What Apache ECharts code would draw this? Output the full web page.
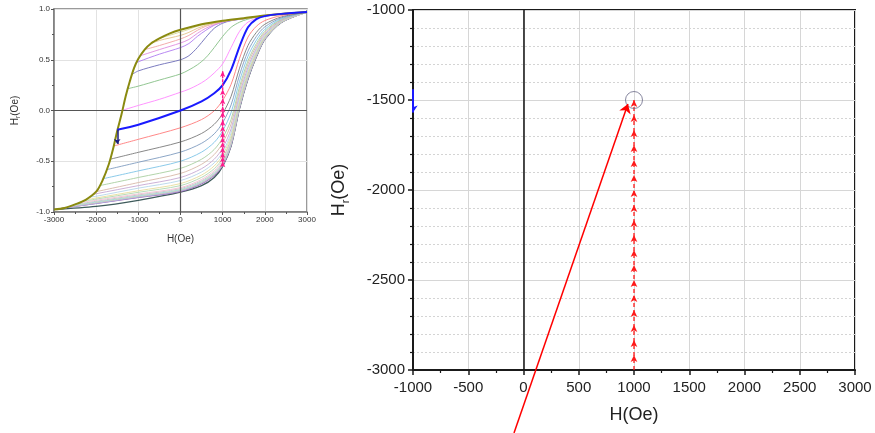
<!DOCTYPE html>
<html>
<head>
<meta charset="utf-8">
<script src="https://cdn.jsdelivr.net/npm/echarts@6/dist/echarts.min.js"></script>
<style>
  html, body { margin: 0; padding: 0; background: #ffffff; }
  #chart { width: 875px; height: 433px; }
</style>
</head>
<body>
<div id="chart"></div>
<script>
// ---------------- Left panel: first-order reversal curves ----------------
// Major loop, descending branch (from positive saturation)
const upperH = [-3000,-2750,-2500,-2250,-2000,-1850,-1700,-1600,-1500,-1400,-1300,-1200,-1100,-1000,-850,-700,-500,-250,0,500,1000,1500,2000,2500,3000];
const upperM = [-0.975,-0.96,-0.925,-0.88,-0.80,-0.69,-0.53,-0.38,-0.20,-0.04,0.14,0.29,0.42,0.51,0.60,0.66,0.71,0.76,0.795,0.85,0.885,0.91,0.935,0.955,0.97];

// Field grid for reversal curves starting at or below Hr = -1500 Oe
const gridLow = [-2000,-1000,0,500,800,1000,1200,1400,1600,1800,2000,2400,3000];
const lowHr = [-1500,-1583,-1667,-1750,-1833,-1917,-2000,-2083,-2167,-2250,-2333,-2417,-2500,-2583,-2667,-2750,-2833,-2917,-3000];
const lowStartM = [-0.19,-0.35,-0.48,-0.583,-0.672,-0.74,-0.80,-0.827,-0.853,-0.88,-0.895,-0.91,-0.925,-0.937,-0.948,-0.96,-0.965,-0.97,-0.975];
const lowM = [
  [null,-0.14,0.0,0.09,0.17,0.25,0.40,0.63,0.82,0.90,0.93,0.952,0.97],
  [null,-0.284,-0.17,-0.089,-0.003,0.10,0.258,0.514,0.723,0.83,0.886,0.936,0.97],
  [null,-0.412,-0.31,-0.226,-0.136,-0.03,0.14,0.417,0.64,0.77,0.85,0.923,0.97],
  [null,-0.51,-0.41,-0.323,-0.23,-0.12,0.055,0.349,0.585,0.73,0.824,0.914,0.97],
  [null,-0.595,-0.50,-0.41,-0.314,-0.20,-0.02,0.288,0.534,0.693,0.80,0.906,0.97],
  [null,-0.66,-0.57,-0.48,-0.384,-0.27,-0.088,0.234,0.489,0.66,0.78,0.899,0.97],
  [null,-0.71,-0.62,-0.53,-0.434,-0.32,-0.133,0.197,0.458,0.637,0.767,0.894,0.97],
  [-0.82,-0.74,-0.66,-0.573,-0.48,-0.37,-0.181,0.157,0.425,0.613,0.752,0.888,0.97],
  [-0.845,-0.765,-0.69,-0.606,-0.516,-0.41,-0.219,0.127,0.399,0.595,0.74,0.884,0.97],
  [-0.862,-0.791,-0.72,-0.636,-0.546,-0.44,-0.247,0.104,0.38,0.581,0.732,0.881,0.97],
  [-0.873,-0.806,-0.74,-0.659,-0.573,-0.47,-0.275,0.081,0.361,0.567,0.723,0.878,0.97],
  [-0.884,-0.822,-0.76,-0.679,-0.593,-0.49,-0.294,0.066,0.348,0.558,0.717,0.876,0.97],
  [-0.894,-0.832,-0.77,-0.692,-0.609,-0.51,-0.312,0.05,0.336,0.549,0.712,0.874,0.97],
  [-0.902,-0.841,-0.78,-0.702,-0.619,-0.52,-0.322,0.043,0.329,0.544,0.709,0.873,0.97],
  [-0.907,-0.846,-0.785,-0.709,-0.627,-0.53,-0.331,0.035,0.323,0.539,0.706,0.872,0.97],
  [-0.914,-0.852,-0.79,-0.714,-0.632,-0.535,-0.336,0.032,0.32,0.537,0.704,0.872,0.97],
  [-0.915,-0.855,-0.795,-0.719,-0.637,-0.54,-0.341,0.028,0.316,0.535,0.703,0.871,0.97],
  [-0.917,-0.858,-0.80,-0.724,-0.642,-0.545,-0.345,0.024,0.313,0.532,0.701,0.87,0.97],
  [-0.945,-0.885,-0.805,-0.74,-0.66,-0.55,-0.35,0.02,0.31,0.53,0.70,0.87,0.97]
];
const lowColors = ['#1a1aff','#ff7a7a','#7a7a7a','#7f9cc0','#7ec4e6','#a9cfa0','#d8b8a8','#c6a8d2','#b6d6ea',
                   '#e6dc9c','#b0d8b0','#f0c0d4','#c4c4c4','#a0dede','#dcc6a6','#b8b8e6','#9a90cc','#a060b0','#3f5c5c'];

// Field grid for reversal curves starting above Hr = -1500 Oe
const gridHigh = [-1000,-500,0,200,400,600,800,1000,1200,1400,1600,2000,3000];
const highHr = [-1390,-1250,-1150,-1050,-950,-850,-700,-500];
const highStartM = [0.0,0.215,0.355,0.465,0.54,0.60,0.66,0.71];
const highM = [
  [0.05,0.11,0.18,0.21,0.25,0.30,0.37,0.46,0.62,0.78,0.87,0.935,0.97],
  [0.24,0.30,0.36,0.40,0.45,0.52,0.62,0.73,0.82,0.87,0.90,0.935,0.97],
  [0.39,0.45,0.50,0.54,0.62,0.72,0.81,0.86,0.885,0.898,0.91,0.935,0.97],
  [0.48,0.555,0.62,0.66,0.73,0.79,0.84,0.87,0.887,0.899,0.91,0.935,0.97],
  [null,0.60,0.665,0.70,0.76,0.81,0.845,0.872,0.889,0.90,0.91,0.935,0.97],
  [null,0.64,0.705,0.74,0.79,0.83,0.855,0.876,0.89,0.90,0.91,0.935,0.97],
  [null,0.69,0.74,0.77,0.81,0.84,0.862,0.879,0.891,0.901,0.91,0.935,0.97],
  [null,null,0.774,0.80,0.83,0.85,0.867,0.88,0.892,0.902,0.91,0.935,0.97]
];
const highColors = ['#ff88ff','#86c086','#6c6cb8','#b07cf0','#e08ce0','#f0a4a4','#e2c28a','#d6d692'];

// Step arrows at H = 1000 Oe (left panel)
const stepH = 1000;
const stepArrowM = [-0.55,-0.50,-0.45,-0.41,-0.36,-0.31,-0.26,-0.21,-0.15,-0.09,-0.01,0.04,0.12,0.21,0.39];
// Reversal step marker at Hr = -1500 Oe
const dropH = -1500;
const dropM = [-0.19,-0.33];

// ---------------- Right panel: reversal fields ----------------
const hrSteps = [-3000,-2917,-2833,-2750,-2667,-2583,-2500,-2417,-2333,-2250,-2167,-2083,-2000,-1917,-1833,-1750,-1667,-1583,-1500];
const hrMarkH = -1000;
const hrMark = [-1440,-1570];
const pointerFrom = [-86,-3350];
const pointerTo = [945,-1522];

const FONT = "'Liberation Sans', Arial, sans-serif";
const plain = function (v) { return String(v); };

function buildCurve(hr, m0, grid, vals) {
  const pts = [[hr, m0]];
  grid.forEach(function (h, i) {
    if (vals[i] !== null && h > hr) pts.push([h, vals[i]]);
  });
  return pts;
}

const series = [];

// Zero lines of the left panel
series.push({
  type: 'line', xAxisIndex: 0, yAxisIndex: 0, data: [], silent: true,
  markLine: {
    silent: true, symbol: 'none', label: { show: false },
    lineStyle: { color: '#555', width: 1.2, type: 'solid' },
    data: [{ xAxis: 0 }, { yAxis: 0 }]
  }
});

// Reversal curves above Hr = -1500
highHr.forEach(function (hr, i) {
  series.push({
    type: 'line', xAxisIndex: 0, yAxisIndex: 0, showSymbol: false, silent: true,
    smooth: 0.3,
    lineStyle: { color: highColors[i], width: 0.9 },
    data: buildCurve(hr, highStartM[i], gridHigh, highM[i]), z: 3
  });
});

// Reversal curves at and below Hr = -1500 (drawn bottom-up so the blue one sits on top)
for (let i = lowHr.length - 1; i >= 0; i--) {
  const isBlue = i === 0;
  const isLast = i === lowHr.length - 1;
  series.push({
    type: 'line', xAxisIndex: 0, yAxisIndex: 0, showSymbol: false, silent: true,
    smooth: 0.3,
    lineStyle: { color: lowColors[i], width: isBlue ? 2 : (isLast ? 1.3 : 0.9) },
    data: buildCurve(lowHr[i], lowStartM[i], gridLow, lowM[i]),
    z: isBlue ? 6 : 3
  });
}

// Major loop descending branch
series.push({
  type: 'line', xAxisIndex: 0, yAxisIndex: 0, showSymbol: false, silent: true,
  smooth: 0.3,
  lineStyle: { color: '#8a8a10', width: 2 },
  data: upperH.map(function (h, i) { return [h, upperM[i]]; }), z: 5
});

// Step arrows at H = 1000
series.push({
  type: 'line', xAxisIndex: 0, yAxisIndex: 0, silent: true,
  data: stepArrowM.map(function (m, i) {
    return i === 0 ? { value: [stepH, m], symbol: 'none' } : { value: [stepH, m] };
  }),
  symbol: 'arrow', symbolSize: [4, 6], showAllSymbol: true,
  itemStyle: { color: '#ff1a8c' },
  lineStyle: { color: '#ff1a8c', width: 1.4, type: [3, 1] }, z: 7
});

// Reversal step marker
series.push({
  type: 'lines', coordinateSystem: 'cartesian2d', xAxisIndex: 0, yAxisIndex: 0, silent: true,
  symbol: ['none', 'arrow'], symbolSize: 5,
  lineStyle: { color: '#1c1c80', width: 1.5, opacity: 1 },
  data: [{ coords: [[dropH, dropM[0]], [dropH, dropM[1]]] }], z: 8
});

// Zero line of the right panel
series.push({
  type: 'line', xAxisIndex: 1, yAxisIndex: 1, data: [], silent: true,
  markLine: {
    silent: true, symbol: 'none', label: { show: false },
    lineStyle: { color: '#111', width: 1.5, type: 'solid' },
    data: [{ xAxis: 0 }]
  }
});

// Reversal-field steps at H = 1000
series.push({
  type: 'line', xAxisIndex: 1, yAxisIndex: 1, silent: true,
  data: hrSteps.map(function (v, i) {
    return i === 0 ? { value: [stepH, v], symbol: 'none' } : { value: [stepH, v] };
  }),
  symbol: 'arrow', symbolSize: [5, 7], showAllSymbol: true,
  itemStyle: { color: '#ff1a1a' },
  lineStyle: { color: '#ff1a1a', width: 1.3, type: [4, 3] }, z: 5
});

// Ring around the last step
series.push({
  type: 'scatter', xAxisIndex: 1, yAxisIndex: 1, silent: true,
  data: [[stepH, hrSteps[hrSteps.length - 1]]],
  symbol: 'circle', symbolSize: 17,
  itemStyle: { color: 'rgba(0,0,0,0)', borderColor: '#6a6a88', borderWidth: 1 }, z: 6
});

// Blue marker on the left axis
series.push({
  type: 'lines', coordinateSystem: 'cartesian2d', xAxisIndex: 1, yAxisIndex: 1, silent: true,
  symbol: ['none', 'arrow'], symbolSize: 7,
  lineStyle: { color: '#1a1aff', width: 2, opacity: 1 },
  data: [{ coords: [[hrMarkH, hrMark[0]], [hrMarkH, hrMark[1]]] }], z: 8
});

// Pointer to the ringed step
series.push({
  type: 'lines', coordinateSystem: 'cartesian2d', xAxisIndex: 1, yAxisIndex: 1, silent: true,
  clip: false,
  symbol: ['none', 'arrow'], symbolSize: 9,
  lineStyle: { color: '#ff0000', width: 1.5, opacity: 1 },
  data: [{ coords: [pointerFrom, pointerTo] }], z: 9
});

const option = {
  animation: false,
  backgroundColor: '#ffffff',
  textStyle: { fontFamily: FONT },
  grid: [
    { left: 54, right: 568, top: 9, bottom: 221, show: true, borderColor: '#7a7a7a', borderWidth: 1.5 },
    { left: 413, right: 20, top: 10, bottom: 63, show: true, borderColor: '#1a1a1a', borderWidth: 2 }
  ],
  xAxis: [
    {
      type: 'value', gridIndex: 0, min: -3000, max: 3000, interval: 1000,
      axisLine: { onZero: false, lineStyle: { color: '#7a7a7a', width: 1.5 } },
      axisTick: { show: true, length: 3, lineStyle: { color: '#555' } },
      minorTick: { show: true, splitNumber: 2, length: 2, lineStyle: { color: '#555' } },
      axisLabel: { fontSize: 8, color: '#333', margin: 4, fontFamily: FONT, formatter: plain },
      splitLine: { show: true, lineStyle: { color: '#e2e2e2', width: 1 } },
      name: 'H(Oe)', nameLocation: 'middle', nameGap: 22,
      nameTextStyle: { fontSize: 10, color: '#333', fontFamily: FONT }
    },
    {
      type: 'value', gridIndex: 1, min: -1000, max: 3000, interval: 500,
      axisLine: { onZero: false, lineStyle: { color: '#1a1a1a', width: 2 } },
      axisTick: { show: true, length: 5, lineStyle: { color: '#1a1a1a', width: 1.5 } },
      minorTick: { show: true, splitNumber: 2, length: 3, lineStyle: { color: '#1a1a1a', width: 1.2 } },
      axisLabel: { fontSize: 15, color: '#222', margin: 10, fontFamily: FONT, formatter: plain },
      splitLine: { show: true, lineStyle: { color: '#d6d6d6', width: 1 } },
      name: 'H(Oe)', nameLocation: 'middle', nameGap: 36,
      nameTextStyle: { fontSize: 18, color: '#222', fontFamily: FONT }
    }
  ],
  yAxis: [
    {
      type: 'value', gridIndex: 0, min: -1, max: 1, interval: 0.5,
      axisLine: { onZero: false, lineStyle: { color: '#7a7a7a', width: 1.5 } },
      axisTick: { show: true, length: 3, lineStyle: { color: '#555' } },
      minorTick: { show: true, splitNumber: 2, length: 2, lineStyle: { color: '#555' } },
      axisLabel: { fontSize: 8, color: '#333', margin: 4, fontFamily: FONT,
        formatter: function (v) { return v.toFixed(1); } },
      splitLine: { show: true, lineStyle: { color: '#e2e2e2', width: 1 } },
      name: '{a|H}{s|r}{a|(Oe)}', nameLocation: 'middle', nameGap: 32, nameRotate: 90,
      nameTextStyle: {
        fontFamily: FONT, color: '#333',
        rich: {
          a: { fontSize: 10, fontFamily: FONT, color: '#333', lineHeight: 14 },
          s: { fontSize: 7, fontFamily: FONT, color: '#333', lineHeight: 14, verticalAlign: 'bottom', padding: [4, 0, 0, 0] }
        }
      }
    },
    {
      type: 'value', gridIndex: 1, min: -3000, max: -1000, interval: 500,
      axisLine: { onZero: false, lineStyle: { color: '#1a1a1a', width: 2 } },
      axisTick: { show: true, length: 5, lineStyle: { color: '#1a1a1a', width: 1.5 } },
      minorTick: { show: true, splitNumber: 5, length: 3, lineStyle: { color: '#1a1a1a', width: 1.2 } },
      axisLabel: { fontSize: 15, color: '#222', margin: 8, fontFamily: FONT, formatter: plain },
      splitLine: { show: true, lineStyle: { color: '#d6d6d6', width: 1 } },
      minorSplitLine: { show: true, lineStyle: { color: '#d4d4d4', width: 1, type: [2, 2] } },
      name: '{a|H}{s|r}{a|(Oe)}', nameLocation: 'middle', nameGap: 62, nameRotate: 90,
      nameTextStyle: {
        fontFamily: FONT, color: '#222',
        rich: {
          a: { fontSize: 18, fontFamily: FONT, color: '#222', lineHeight: 24 },
          s: { fontSize: 11, fontFamily: FONT, color: '#222', lineHeight: 24, verticalAlign: 'bottom', padding: [8, 0, 0, 0] }
        }
      }
    }
  ],
  series: series
};

const chart = echarts.init(document.getElementById('chart'), null, { renderer: 'canvas' });
chart.setOption(option);
</script>
</body>
</html>
